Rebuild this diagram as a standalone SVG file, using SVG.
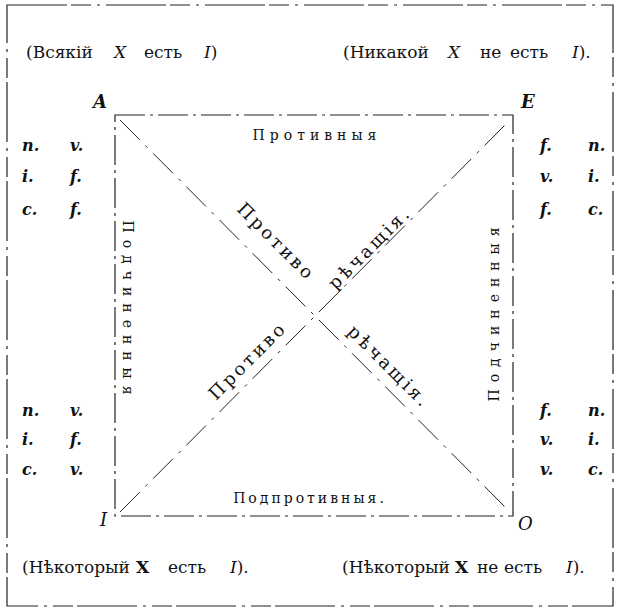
<svg xmlns="http://www.w3.org/2000/svg" width="620" height="612" viewBox="0 0 620 612">
<style>
.t{font-family:"DejaVu Serif","Liberation Serif",serif;fill:#111;}
.lab{font-size:17px;}
.it{font-style:italic;}
.row{font-size:16px;font-style:italic;font-weight:bold;}
.corner{font-size:18px;font-style:italic;font-weight:bold;}
.sp{font-size:14px;letter-spacing:5px;}
.dg{font-size:18px;letter-spacing:3px;}
.frame{fill:none;stroke:#222;stroke-width:1.2;stroke-dasharray:60 4 20 6 3 6;}
.sq{fill:none;stroke:#222;stroke-width:1.2;stroke-dasharray:30 5 3 5;}
.diag{stroke:#222;stroke-width:1;stroke-dasharray:28 8 3 8;}
</style>
<rect class="frame" x="7" y="5" width="606" height="601"/>
<g id="connectors">
<rect class="sq" x="115" y="115" width="398" height="401"/>
<line class="diag" x1="120" y1="120" x2="510" y2="512"/>
<line class="diag" x1="120" y1="512" x2="510" y2="120"/>
</g>
<g id="A">
<text class="t lab" y="58"><tspan x="26">(Всякій</tspan><tspan x="114" class="it">X</tspan><tspan x="144">есть</tspan><tspan x="204" class="it">I</tspan>)</text>
<text class="t corner" x="93" y="108">A</text>
<text class="t row" x="22" y="151">n.</text><text class="t row" x="70" y="151">v.</text>
<text class="t row" x="22" y="182">i.</text><text class="t row" x="70" y="182">f.</text>
<text class="t row" x="22" y="215">c.</text><text class="t row" x="70" y="215">f.</text>
</g>
<g id="E">
<text class="t lab" y="58"><tspan x="343">(Никакой</tspan><tspan x="448" class="it">X</tspan><tspan x="480">не</tspan><tspan x="510">есть</tspan><tspan x="572" class="it">I</tspan>).</text>
<text class="t corner" x="521" y="108">E</text>
<text class="t row" x="540" y="151">f.</text><text class="t row" x="588" y="151">n.</text>
<text class="t row" x="540" y="182">v.</text><text class="t row" x="588" y="182">i.</text>
<text class="t row" x="540" y="215">f.</text><text class="t row" x="588" y="215">c.</text>
</g>
<g id="I">
<text class="t lab" y="573"><tspan x="22">(Нѣкоторый</tspan><tspan x="136" font-weight="bold">X</tspan><tspan x="168">есть</tspan><tspan x="230" class="it">I</tspan>).</text>
<text class="t corner" x="100" y="526" style="font-weight:normal">I</text>
<text class="t row" x="22" y="416">n.</text><text class="t row" x="70" y="416">v.</text>
<text class="t row" x="22" y="445">i.</text><text class="t row" x="70" y="445">f.</text>
<text class="t row" x="22" y="475">c.</text><text class="t row" x="70" y="475">v.</text>
</g>
<g id="O">
<text class="t lab" y="573"><tspan x="342">(Нѣкоторый</tspan><tspan x="455" font-weight="bold">X</tspan><tspan x="477">не</tspan><tspan x="504">есть</tspan><tspan x="566" class="it">I</tspan>).</text>
<text class="t corner" x="518" y="530" style="font-weight:normal">O</text>
<text class="t row" x="540" y="416">f.</text><text class="t row" x="588" y="416">n.</text>
<text class="t row" x="540" y="445">v.</text><text class="t row" x="588" y="445">i.</text>
<text class="t row" x="540" y="475">v.</text><text class="t row" x="588" y="475">c.</text>
</g>
<g id="labels">
<text class="t sp" x="317" y="140" text-anchor="middle">Противныя</text>
<text class="t sp" x="310" y="503" text-anchor="middle" style="letter-spacing:3px">Подпротивныя.</text>
<text class="t sp" transform="translate(123,311) rotate(90)" text-anchor="middle" style="letter-spacing:7px">Подчиненныя</text>
<text class="t sp" transform="translate(499,311) rotate(-90)" text-anchor="middle" style="letter-spacing:7px">Подчиненныя</text>
<text class="t dg" transform="translate(272,246) rotate(45)" text-anchor="middle">Противо</text>
<text class="t dg" transform="translate(374,252) rotate(-45)" text-anchor="middle">рѣчащія.</text>
<text class="t dg" transform="translate(252,365) rotate(-45)" text-anchor="middle">Противо</text>
<text class="t dg" transform="translate(385,371) rotate(45)" text-anchor="middle">рѣчащія.</text>
</g>
</svg>
